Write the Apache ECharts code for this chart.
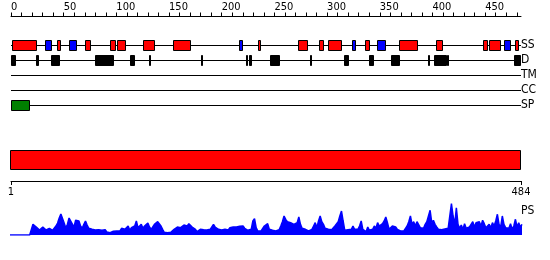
<!DOCTYPE html>
<html><head><meta charset="utf-8">
<script src="https://cdn.jsdelivr.net/npm/echarts@6/dist/echarts.min.js"></script>
<style>html,body{margin:0;padding:0;background:#fff}#c{width:550px;height:260px}</style>
</head><body><div id="c"></div>
<script>
// ---- data ----
const seqLength = 484;
const tracks = ['SS', 'D', 'TM', 'CC', 'SP'];
const helix = [[1,24],[44,47],[70,75],[94,99],[101,109],[125,135],[154,170],[234,236],[272,281],[292,296],[301,313],[336,340],[368,385],[403,409],[448,452],[454,464],[478,481]];
const strand = [[32,38],[55,62],[216,219],[324,327],[347,355],[468,474]];
const disorder = [[0,4],[24,26],[38,46],[80,97],[113,117],[131,132],[180,181],[223,224],[226,228],[246,255],[284,285],[316,320],[340,344],[361,369],[396,397],[401,412],[414,415],[477,483]];
const transmembrane = [];
const coiledCoil = [];
const signalPeptide = [[0,17]];
const domains = [[1,484]];
const topTickValues = [0,10,20,30,40,50,60,70,80,90,100,110,120,130,140,150,160,170,180,190,200,210,220,230,240,250,260,270,280,290,300,310,320,330,340,350,360,370,380,390,400,410,420,430,440,450,460,470,480];
const topLabelValues = [0,50,100,150,200,250,300,350,400,450];
const bottomTickValues = [1,484];
const psValues = [
0,0,0,0,0,0,0,0,0,0,0,0,0,0,
10.7,11.3,8,6.7,5,5.7,8,7.3,5,5.3,6.7,5.7,4.7,5.7,9,12,17,21,19,12,7,10.7,17,16.7,11,8,14.7,16.7,14,9,6.7,10.7,14,10,6.7,8,5.7,4,5,4,5.3,4,4.7,4,5.3,3,2.7,2.3,3.3,3.7,3.3,4,5.7,4,6.7,8,5.7,7.3,9,4.7,7.3,5.7,9,14,7.3,
7.3,10.7,6.7,9,7.3,12,8,5.7,7.3,10.7,9,13.3,14,9,5.7,2.7,2.3,2.3,2.7,2.7,4.7,5.7,7.3,8,6.7,7.3,8.7,10,11.3,9,11.3,10,8,6.7,5.7,3.3,4,5.7,4.7,5.3,4.7,5,4.7,5.7,7.3,10.7,8,9,5.7,4,5,4,5.7,6.7,5,7.3,5.7,8,9.3,8,10,8.7,10.7,9,6.7,5.7,4.7,4,5.7,14,16.3,7.3,4,3.3,4,4.7,9,
10,11.3,5.7,4,4.7,5.7,4,3.3,5.3,9,13.3,19,15.7,13.3,14,12.3,11.3,10.7,9,12.3,18,10.7,6.7,8,5.7,4.7,4,3.3,5.7,9,12.3,7.3,14,19,13.3,10.7,6.7,4.7,5.7,6.7,5.3,7.3,9,7.3,13.3,19,24,14,4.7,4,5.3,6.7,5.7,9,5.7,4,5.7,9,14,5.7,4,3.3,8,4.7,6.7,5.7,9,6.7,12.3,9,7.3,11.3,14,18,12.3,5.7,6.7,9,10.7,
8,5.7,6.7,4,5.3,4,5.7,9,13.3,19,10.7,13.3,9,13.3,12.3,7.3,9,6.7,10.7,13.3,12.3,24.7,12.3,14.7,10.7,8,5.7,6.7,5.3,5.7,6,6.3,6.7,7.3,31.3,19,10.7,27.3,10.7,6.7,10,5.7,11.3,6.7,5.7,8,9,13.3,8,12.3,10.7,13.3,9,14.7,11.3,7.3,9,10.7,7.3,12.3,9,14,20.7,10.7,8,19,10.7,7.3,9,6.7,11.3,5.7,9,15.7,8,12.3,8,10.7
];

// ---- chart ----
const FONT = 'DejaVu Sans Condensed, DejaVu Sans, sans-serif';
const chart = echarts.init(document.getElementById('c'), null, {renderer: 'canvas'});

function boxSeries(name, rows, rowIdx, fill, h) {
  return {
    type: 'custom', name, xAxisIndex: 0, yAxisIndex: 0, z: 3, silent: true,
    data: rows.map(r => [r[0], r[1], rowIdx]),
    encode: {x: [0, 1], y: 2},
    renderItem: (params, api) => {
      const a = api.coord([api.value(0), api.value(2)]);
      const b = api.coord([api.value(1), api.value(2)]);
      return {
        type: 'rect',
        shape: {x: Math.round(a[0]) + 0.5, y: Math.round(a[1] - h / 2) + 0.5,
                width: Math.max(Math.round(b[0] - a[0]), 1), height: h},
        style: {fill, stroke: '#000', lineWidth: 1}
      };
    }
  };
}

const backbone = {
  type: 'custom', xAxisIndex: 0, yAxisIndex: 0, z: 2, silent: true,
  data: tracks.map((t, i) => [0, seqLength, i]),
  encode: {x: [0, 1], y: 2},
  renderItem: (params, api) => {
    const a = api.coord([api.value(0), api.value(2)]);
    const b = api.coord([api.value(1), api.value(2)]);
    const y = Math.round(a[1]) + 0.5;
    return {type: 'line', shape: {x1: a[0], y1: y, x2: b[0], y2: y}, style: {stroke: '#000', lineWidth: 1}};
  }
};

const domainSeries = {
  type: 'custom', xAxisIndex: 1, yAxisIndex: 1, z: 3, silent: true,
  data: domains.map(d => [d[0], d[1], 0]),
  encode: {x: [0, 1], y: 2},
  renderItem: (params, api) => {
    const a = api.coord([api.value(0), api.value(2)]);
    const b = api.coord([api.value(1), api.value(2)]);
    const h = api.size([0, 1])[1];
    return {type: 'rect',
      shape: {x: Math.round(a[0]) - 0.5, y: Math.round(a[1] - h / 2) + 0.5, width: Math.round(b[0] - a[0]), height: h - 1},
      style: {fill: '#ff0000', stroke: '#000', lineWidth: 1}};
  }
};

const axisText = {color: '#000', fontSize: 11, fontFamily: FONT};

chart.setOption({
  animation: false,
  backgroundColor: '#fff',
  title: {text: 'PS', left: 521, top: 205, padding: 0,
    textStyle: {fontSize: 12, fontWeight: 'normal', color: '#000', fontFamily: FONT}},
  grid: [
    {left: 11, width: 510, top: 37.5, height: 75},
    {left: 11, width: 510, top: 150, height: 20},
    {left: 10, width: 512, top: 200, height: 35}
  ],
  xAxis: [
    {gridIndex: 0, type: 'value', min: 0, max: seqLength, position: 'top', offset: 21,
     axisLine: {show: true, lineStyle: {color: '#000', width: 1}},
     axisTick: {show: true, length: 4, customValues: topTickValues, lineStyle: {color: '#000'}},
     axisLabel: Object.assign({customValues: topLabelValues, align: 'left', margin: 4}, axisText),
     splitLine: {show: false}},
    {gridIndex: 1, type: 'value', min: 1, max: seqLength, position: 'bottom', offset: 11,
     axisLine: {show: true, lineStyle: {color: '#000', width: 1}},
     axisTick: {show: true, length: 4, customValues: bottomTickValues, lineStyle: {color: '#000'}},
     axisLabel: Object.assign({customValues: bottomTickValues, margin: 6}, axisText),
     splitLine: {show: false}},
    {gridIndex: 2, type: 'value', min: 1, max: seqLength, show: false}
  ],
  yAxis: [
    {gridIndex: 0, type: 'category', data: tracks, inverse: true, position: 'right',
     axisLine: {show: false}, axisTick: {show: false}, splitLine: {show: false},
     axisLabel: {interval: 0, margin: 0, color: '#000', fontSize: 12, fontFamily: FONT}},
    {gridIndex: 1, type: 'category', data: ['domain'], show: false},
    {gridIndex: 2, type: 'value', min: 0, max: 35, show: false}
  ],
  series: [
    backbone,
    boxSeries('helix', helix, 0, '#ff0000', 10),
    boxSeries('strand', strand, 0, '#0000ff', 10),
    boxSeries('disorder', disorder, 1, '#000000', 10),
    boxSeries('transmembrane', transmembrane, 2, '#808080', 10),
    boxSeries('coiledCoil', coiledCoil, 3, '#808080', 10),
    boxSeries('signalPeptide', signalPeptide, 4, '#008000', 10),
    domainSeries,
    {type: 'line', xAxisIndex: 2, yAxisIndex: 2, silent: true,
     data: psValues.map((v, i) => [1 + i * (seqLength - 1) / (psValues.length - 1), v]),
     showSymbol: false, symbol: 'none',
     lineStyle: {color: '#0000ff', width: 1.5},
     areaStyle: {color: '#0000ff', opacity: 1}}
  ]
});
</script></body></html>
